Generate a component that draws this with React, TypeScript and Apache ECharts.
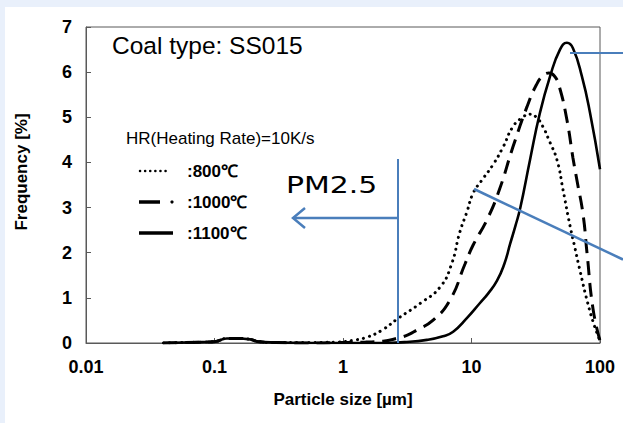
import React, { useEffect, useRef } from "react";
import * as echarts from "echarts";

// Particle size [µm] and frequency [%] for each temperature (HR = 10 K/s)
const size800 = [0.04, 0.08, 0.1, 0.125, 0.15, 0.19, 0.22, 0.3, 0.5, 0.9, 1.2, 1.54, 2.0, 2.7, 4.0, 5.7, 7.0, 8.1, 9.2, 10.3, 12, 14.7, 17.6, 21, 25, 28.5, 32, 36, 40, 46.3, 51.5, 58.4, 63.9, 69.9, 80, 90, 100];
const freq800 = [0, 0.02, 0.03, 0.1, 0.1, 0.08, 0.03, 0.01, 0.01, 0.02, 0.06, 0.13, 0.28, 0.55, 0.88, 1.24, 1.75, 2.45, 2.9, 3.32, 3.6, 3.95, 4.34, 4.79, 5.0, 5.07, 5.0, 4.79, 4.5, 4.05, 3.4, 2.6, 2.1, 1.6, 0.9, 0.4, 0.05];

const size1000 = [0.04, 0.08, 0.1, 0.125, 0.15, 0.19, 0.22, 0.3, 0.5, 1, 1.5, 2.05, 2.6, 3.2, 3.77, 5, 6.8, 8.9, 10.3, 13.2, 16.5, 21, 27, 32, 36, 40, 44, 48, 55.3, 61.6, 66.2, 73.8, 79.2, 88.3, 100];
const freq1000 = [0, 0.02, 0.03, 0.1, 0.1, 0.08, 0.03, 0.01, 0, 0.01, 0.02, 0.04, 0.1, 0.18, 0.29, 0.5, 0.95, 1.75, 2.17, 2.73, 3.4, 4.34, 5.23, 5.72, 5.92, 5.98, 5.92, 5.7, 4.94, 4.1, 3.6, 2.85, 2.0, 0.75, 0.05];

const size1100 = [0.04, 0.08, 0.1, 0.125, 0.15, 0.19, 0.22, 0.3, 0.5, 1, 2, 3, 4.5, 6, 7.2, 9.2, 11.6, 13.5, 15.8, 18, 20, 22, 24, 28.5, 34.1, 40.8, 48.8, 55.3, 61.6, 72.4, 83.6, 100];
const freq1100 = [0, 0.02, 0.03, 0.1, 0.1, 0.08, 0.03, 0.01, 0, 0, 0, 0.02, 0.07, 0.15, 0.25, 0.55, 0.88, 1.1, 1.38, 1.75, 2.2, 2.6, 3.0, 4.05, 5.1, 5.9, 6.5, 6.65, 6.53, 5.9, 5.1, 3.85];

const legendLabels = [":800℃", ":1000℃", ":1100℃"];

const FONT = "'Liberation Sans', Arial, sans-serif";
const BLUE = "#4A7EBB";
const AXIS = "#595959";

const zip = (xs: number[], ys: number[]) => xs.map((x, i) => [x, ys[i]]);

export default function App() {
  const ref = useRef<HTMLDivElement>(null);

  useEffect(() => {
    if (!ref.current) return;
    const chart = echarts.init(ref.current, undefined, { renderer: "svg" });
    const fmt = (v: number) => String(parseFloat(Number(v).toPrecision(6)));
    const rowY = [171, 202, 233];

    chart.setOption({
      animation: false,
      grid: {
        left: 86,
        right: 23,
        top: 27,
        bottom: 80,
        show: true,
        borderColor: AXIS,
        borderWidth: 1,
        backgroundColor: "transparent",
      },
      xAxis: {
        type: "log",
        logBase: 10,
        min: 0.01,
        max: 100,
        axisLine: { show: true, lineStyle: { color: AXIS, width: 1 } },
        axisTick: { show: true, inside: true, length: 5, lineStyle: { color: AXIS } },
        minorTick: { show: false },
        splitLine: { show: false },
        axisLabel: {
          color: "#000",
          fontSize: 18,
          fontWeight: "bold",
          fontFamily: FONT,
          margin: 15,
          formatter: fmt,
        },
        name: "Particle size [µm]",
        nameLocation: "middle",
        nameGap: 48,
        nameTextStyle: { color: "#000", fontSize: 17, fontWeight: "bold", fontFamily: FONT },
      },
      yAxis: {
        type: "value",
        min: 0,
        max: 7,
        interval: 1,
        axisLine: { show: true, lineStyle: { color: AXIS, width: 1 } },
        axisTick: { show: true, inside: true, length: 5, lineStyle: { color: AXIS } },
        splitLine: { show: false },
        axisLabel: {
          color: "#000",
          fontSize: 18,
          fontWeight: "bold",
          fontFamily: FONT,
          margin: 14,
        },
      },
      series: [
        {
          name: "800℃",
          type: "line",
          data: zip(size800, freq800),
          showSymbol: false,
          smooth: 0.5,
          lineStyle: { color: "#000", width: 3, type: [0.1, 6], cap: "round" },
          z: 3,
        },
        {
          name: "1000℃",
          type: "line",
          data: zip(size1000, freq1000),
          showSymbol: false,
          smooth: 0.5,
          lineStyle: { color: "#000", width: 3, type: [14, 8] },
          z: 3,
        },
        {
          name: "1100℃",
          type: "line",
          data: zip(size1100, freq1100),
          showSymbol: false,
          smooth: 0.5,
          lineStyle: { color: "#000", width: 2.6, type: "solid" },
          z: 3,
        },
      ],
      graphic: {
        elements: [
          {
            type: "text",
            x: 21,
            y: 172,
            rotation: Math.PI / 2,
            style: {
              text: "Frequency [%]",
              fill: "#000",
              fontSize: 17,
              fontWeight: "bold",
              fontFamily: FONT,
              align: "center",
              verticalAlign: "middle",
            },
          },
          {
            type: "text",
            x: 112,
            y: 45,
            style: {
              text: "Coal type: SS015",
              fill: "#000",
              fontSize: 24.5,
              fontFamily: FONT,
              align: "left",
              verticalAlign: "middle",
            },
          },
          {
            type: "text",
            x: 126,
            y: 138,
            style: {
              text: "HR(Heating Rate)=10K/s",
              fill: "#000",
              fontSize: 17,
              fontFamily: FONT,
              align: "left",
              verticalAlign: "middle",
            },
          },
          // legend samples
          {
            type: "line",
            shape: { x1: 140, y1: rowY[0], x2: 170, y2: rowY[0] },
            style: { stroke: "#000", lineWidth: 2.5, lineDash: [0.1, 5], lineCap: "round" },
          },
          {
            type: "line",
            shape: { x1: 139, y1: rowY[1], x2: 160, y2: rowY[1] },
            style: { stroke: "#000", lineWidth: 3.5 },
          },
          {
            type: "circle",
            shape: { cx: 172, cy: rowY[1], r: 1.6 },
            style: { fill: "#000" },
          },
          {
            type: "line",
            shape: { x1: 139, y1: rowY[2], x2: 173, y2: rowY[2] },
            style: { stroke: "#000", lineWidth: 3.5 },
          },
          ...legendLabels.map((t, i) => ({
            type: "text",
            x: 187,
            y: rowY[i],
            style: {
              text: t,
              fill: "#000",
              fontSize: 17,
              fontWeight: "bold",
              fontFamily: FONT,
              align: "left",
              verticalAlign: "middle",
            },
          })),
          // PM2.5 annotation
          {
            type: "text",
            x: 286,
            y: 185,
            scaleX: 1.3,
            style: {
              text: "PM2.5",
              fill: "#000",
              fontSize: 23,
              fontFamily: "'DejaVu Sans', sans-serif",
              align: "left",
              verticalAlign: "middle",
            },
          },
          {
            type: "line",
            z: 100,
            shape: { x1: 398, y1: 159, x2: 398, y2: 343 },
            style: { stroke: BLUE, lineWidth: 2 },
          },
          {
            type: "line",
            z: 100,
            shape: { x1: 398, y1: 218, x2: 294, y2: 218 },
            style: { stroke: BLUE, lineWidth: 2.5 },
          },
          {
            type: "polyline",
            z: 100,
            shape: { points: [[305, 208], [293, 218], [305, 228]] },
            style: { stroke: BLUE, lineWidth: 2.5, fill: "none" },
          },
          {
            type: "line",
            z: 100,
            shape: { x1: 570, y1: 53, x2: 623, y2: 53 },
            style: { stroke: BLUE, lineWidth: 2 },
          },
          {
            type: "line",
            z: 100,
            shape: { x1: 474, y1: 189, x2: 623, y2: 259.5 },
            style: { stroke: BLUE, lineWidth: 2.5 },
          },
        ],
      },
    });

    return () => chart.dispose();
  }, []);

  return (
    <div
      style={{
        position: "fixed",
        left: 0,
        top: 0,
        width: 623,
        height: 423,
        background: "#E9F0FB",
        overflow: "hidden",
      }}
    >
      <div
        style={{
          position: "absolute",
          left: 5,
          top: 7,
          right: 0,
          bottom: 0,
          background: "#FFFFFF",
        }}
      />
      <div
        ref={ref}
        style={{ position: "absolute", left: 0, top: 0, width: 623, height: 423 }}
      />
    </div>
  );
}
